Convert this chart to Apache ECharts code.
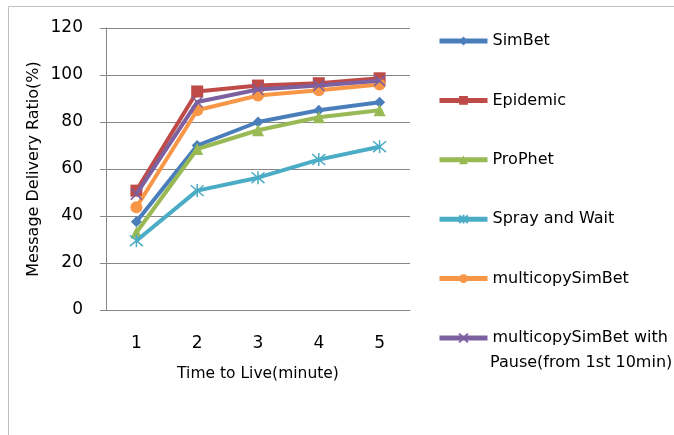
<!DOCTYPE html>
<html>
<head>
<meta charset="utf-8">
<script src="https://cdn.jsdelivr.net/npm/echarts@6/dist/echarts.min.js"></script>
<style>
  html, body { margin: 0; padding: 0; background: #fff; }
  #chart { width: 674px; height: 435px; }
</style>
</head>
<body>
<div id="chart"></div>
<script>
// Time to live (minutes)
const ttl = ['1', '2', '3', '4', '5'];

// Message delivery ratio (%) per routing protocol
const simBet = [37.6, 70, 80, 85, 88.4];
const epidemic = [50.8, 93, 95.5, 96.5, 98.6];
const proPhet = [33, 68.5, 76.5, 82, 85];
const sprayAndWait = [29.5, 50.8, 56.3, 64, 69.5];
const multicopySimBet = [43.7, 85, 91.3, 93.5, 96];
const multicopyPause = [49.3, 88.5, 93.8, 95.5, 97.6];

const yTicks = { min: 0, max: 120, step: 20 };

const names = [
  'SimBet', 'Epidemic', 'ProPhet', 'Spray and Wait', 'multicopySimBet',
  'multicopySimBet with Pause(from 1st 10min)'
];
const colors = ['#4A7EBB', '#BE4B48', '#98B954', '#4BACC6', '#F79646', '#7D60A0'];

const asterisk = 'path://M0,0 L10,10 M10,0 L0,10 M5,-1 L5,11';
const cross = 'path://M0,0 L10,10 M10,0 L0,10';

const FONT = '"DejaVu Sans", "Liberation Sans", sans-serif';

function lineSeries(idx, values, symbol, size, stroked) {
  return {
    name: names[idx],
    type: 'line',
    data: values,
    symbol: symbol,
    symbolSize: size,
    showSymbol: true,
    lineStyle: { color: colors[idx], width: 4 },
    itemStyle: stroked
      ? { color: 'rgba(0,0,0,0)', borderColor: colors[idx], borderWidth: 1.5 }
      : { color: colors[idx] },
    z: 2 + idx
  };
}

const chart = echarts.init(document.getElementById('chart'), null, { renderer: 'canvas' });

chart.setOption({
  animation: false,
  backgroundColor: '#fff',
  textStyle: { fontFamily: FONT },
  graphic: [{
    type: 'rect',
    shape: { x: 8.5, y: 6.5, width: 700, height: 440 },
    style: { fill: 'none', stroke: '#BFBFBF', lineWidth: 1 },
    silent: true
  }, {
    // second line of the last legend entry
    type: 'text',
    left: 490,
    top: 355,
    style: { text: 'Pause(from 1st 10min)', fontSize: 16, fontFamily: FONT, fill: '#000' },
    silent: true
  }],
  grid: { left: 106, right: 264, top: 28, bottom: 125 },
  legend: {
    orient: 'vertical',
    left: 437,
    top: 33,
    padding: 0,
    itemWidth: 48,
    itemHeight: 11,
    itemGap: 43.4,
    data: names,
    lineStyle: { width: 5 },
    formatter: n => (n === names[5] ? 'multicopySimBet with' : n),
    textStyle: { fontSize: 16, color: '#000', fontFamily: FONT }
  },
  xAxis: {
    type: 'category',
    data: ttl,
    boundaryGap: true,
    axisLine: { lineStyle: { color: '#868686', width: 1 } },
    axisTick: { show: false },
    axisLabel: { fontSize: 17, color: '#000', margin: 25, fontFamily: FONT },
    name: 'Time to Live(minute)',
    nameLocation: 'middle',
    nameGap: 56,
    nameTextStyle: { fontSize: 15.5, color: '#000', fontFamily: FONT }
  },
  yAxis: {
    type: 'value',
    min: yTicks.min,
    max: yTicks.max,
    interval: yTicks.step,
    axisLine: { show: true, lineStyle: { color: '#868686', width: 1 } },
    axisTick: { show: true, length: 6, lineStyle: { color: '#868686' } },
    splitLine: { lineStyle: { color: '#868686', width: 1 } },
    axisLabel: { fontSize: 17, color: '#000', margin: 23, fontFamily: FONT },
    name: 'Message Delivery Ratio(%)',
    nameLocation: 'middle',
    nameGap: 64,
    nameTextStyle: { fontSize: 16, color: '#000', fontFamily: FONT }
  },
  series: [
    lineSeries(0, simBet, 'diamond', 11, false),
    lineSeries(1, epidemic, 'rect', 12, false),
    lineSeries(2, proPhet, 'triangle', 12, false),
    lineSeries(3, sprayAndWait, asterisk, 13, true),
    lineSeries(4, multicopySimBet, 'circle', 12, false),
    lineSeries(5, multicopyPause, cross, 11, true)
  ]
});
</script>
</body>
</html>
